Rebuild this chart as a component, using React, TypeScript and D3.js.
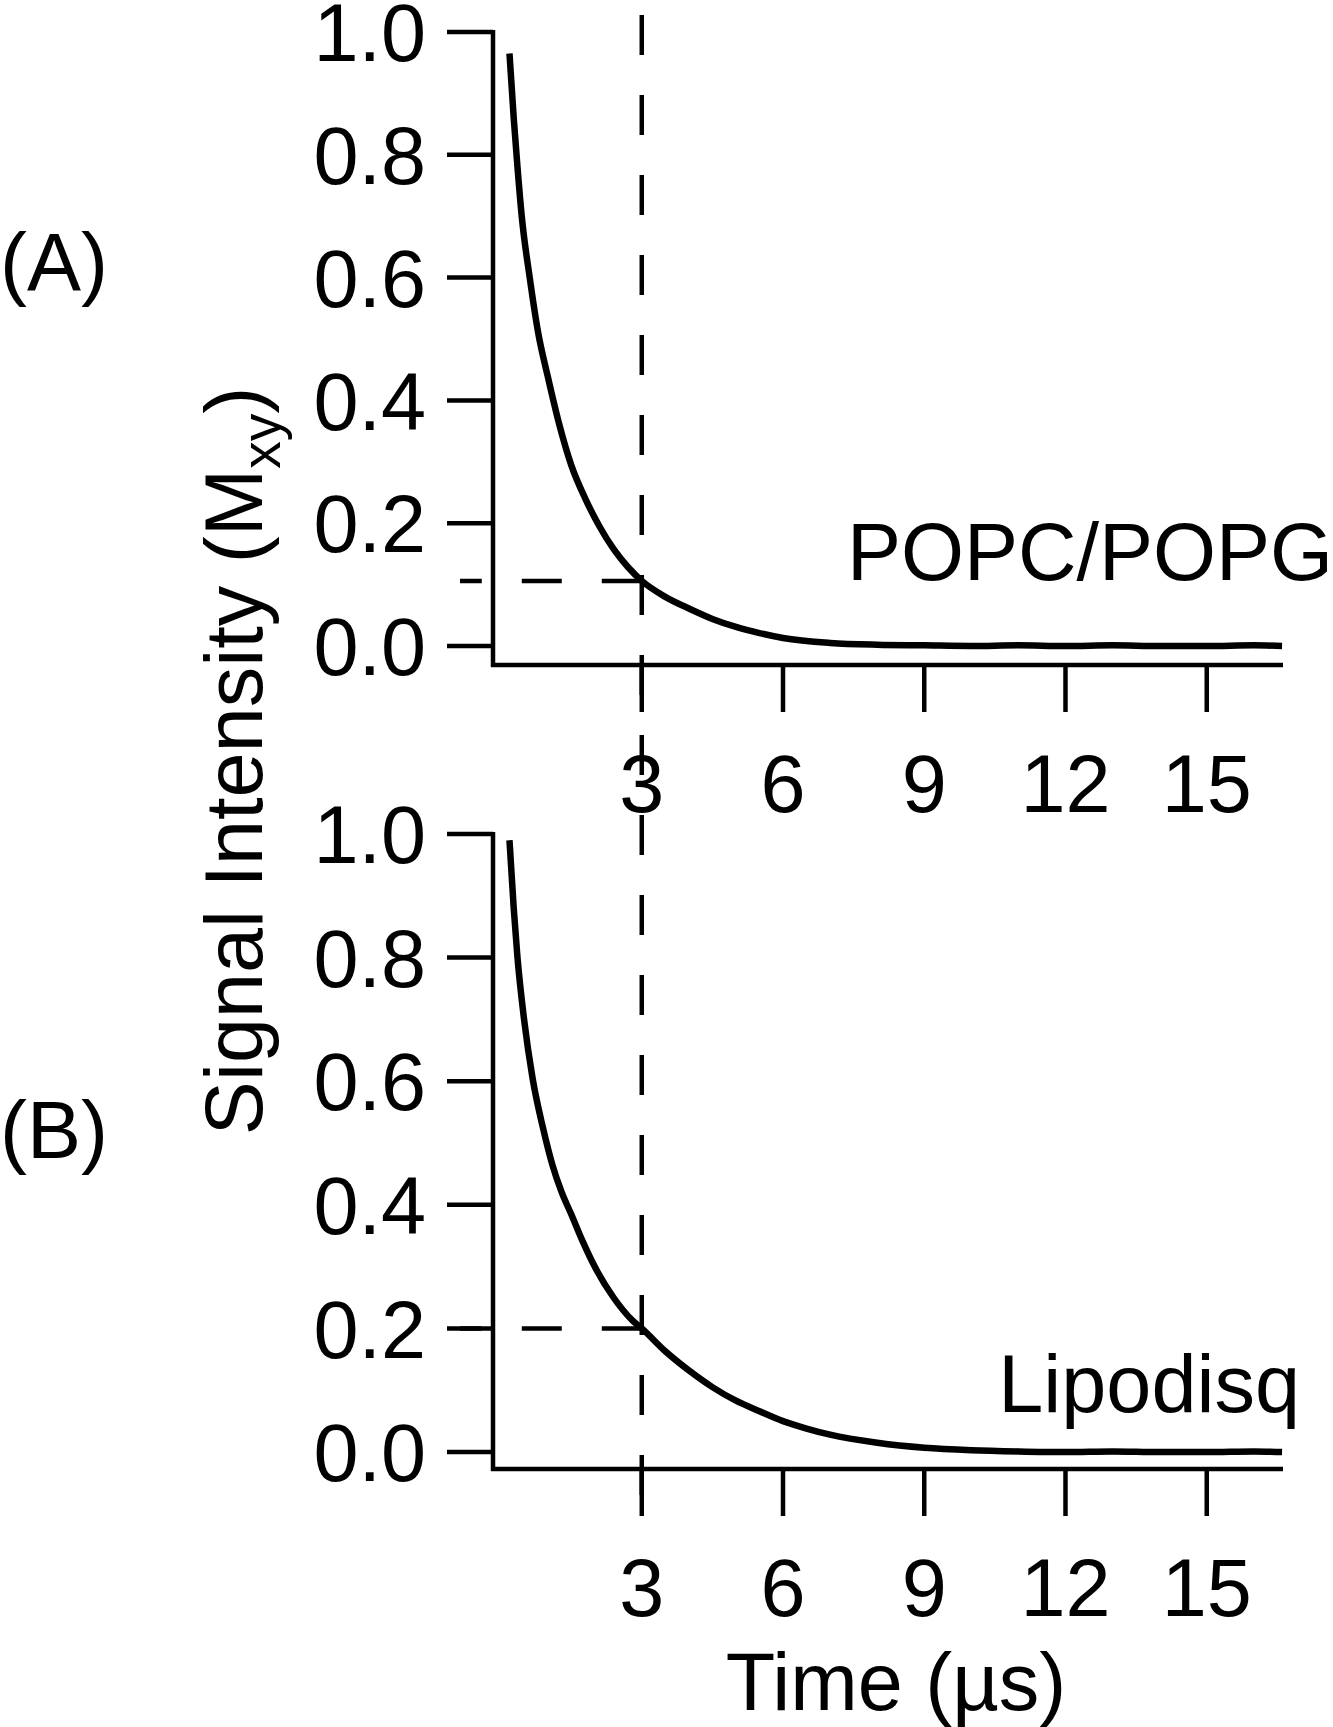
import * as d3 from "d3";
import React, { useRef, useEffect } from "react";

// values (time in µs, normalised Mxy)
const timeTicks = [3, 6, 9, 12, 15];
const signalTicks = [0, 0.2, 0.4, 0.6, 0.8, 1.0];

const popcTime = [0.19, 0.28, 0.36, 0.45, 0.62, 0.8, 1.0, 1.25, 1.5, 1.8, 2.1, 2.4, 2.7, 3.0, 3.5, 4.0, 4.5, 5.0, 5.5, 6.0, 7.0, 8.0, 9.0, 10, 11, 12, 13, 14, 15, 16, 16.6];
const popcSignal = [0.965, 0.86, 0.78, 0.7, 0.6, 0.51, 0.44, 0.36, 0.295, 0.24, 0.195, 0.158, 0.129, 0.106, 0.08, 0.061, 0.044, 0.031, 0.021, 0.013, 0.005, 0.002, 0.001, 0.0, 0.001, 0.0, 0.001, 0.0, 0.0, 0.001, 0.0];

const lipoTime = [0.19, 0.28, 0.36, 0.5, 0.68, 0.9, 1.1, 1.3, 1.5, 1.75, 2.0, 2.4, 2.8, 3.0, 3.5, 4.0, 4.5, 5.0, 5.5, 6.0, 6.5, 7.0, 8.0, 9.0, 10, 11, 12, 13, 14, 15, 16, 16.6];
const lipoSignal = [0.99, 0.88, 0.8, 0.7, 0.605, 0.525, 0.465, 0.42, 0.385, 0.34, 0.3, 0.25, 0.213, 0.2, 0.163, 0.132, 0.105, 0.083, 0.066, 0.05, 0.038, 0.028, 0.015, 0.007, 0.003, 0.001, 0.0, 0.001, 0.0, 0.0, 0.001, 0.0];

const panelLabels = ["(A)", "(B)"];
const sampleNames = ["POPC/POPG", "Lipodisq"];
const markerTime = 3;
const markerSignal = [0.106, 0.2];

const width = 1333;
const height = 1727;
const font = "'Liberation Sans', Arial, sans-serif";
const fs = 81;
const axisWidth = 4.5;

function App() {
  const ref = useRef(null);

  useEffect(() => {
    draw();
  }, []);

  const draw = () => {
    const svg = d3.select(ref.current);
    svg.selectAll("*").remove();

    const xScale = d3.scaleLinear().domain([-0.16, 16.62]).range([493, 1283]);

    const panels = [
      {
        time: popcTime,
        signal: popcSignal,
        y: d3.scaleLinear().domain([-0.031, 1]).range([665, 32]),
        label: panelLabels[0],
        labelY: 290,
        name: sampleNames[0],
        nameX: 1333,
        nameY: 580,
        marker: markerSignal[0],
      },
      {
        time: lipoTime,
        signal: lipoSignal,
        y: d3.scaleLinear().domain([-0.0275, 1]).range([1469, 834]),
        label: panelLabels[1],
        labelY: 1158,
        name: sampleNames[1],
        nameX: 1300,
        nameY: 1412,
        marker: markerSignal[1],
      },
    ];

    const g = svg.append("g").attr("font-family", font).attr("fill", "#000");

    panels.forEach((p) => {
      const yScale = p.y;
      const x0 = xScale.range()[0];
      const yBase = yScale.range()[0];

      // axes
      g.append("line")
        .attr("x1", x0).attr("x2", x0)
        .attr("y1", yScale(1) - 2).attr("y2", yBase + 2)
        .attr("stroke", "#000").attr("stroke-width", axisWidth);
      g.append("line")
        .attr("x1", x0 - 2).attr("x2", xScale.range()[1])
        .attr("y1", yBase).attr("y2", yBase)
        .attr("stroke", "#000").attr("stroke-width", axisWidth);

      // y ticks
      signalTicks.forEach((v) => {
        g.append("line")
          .attr("x1", x0 - 46).attr("x2", x0)
          .attr("y1", yScale(v)).attr("y2", yScale(v))
          .attr("stroke", "#000").attr("stroke-width", axisWidth);
        g.append("text")
          .attr("x", x0 - 67)
          .attr("y", yScale(v))
          .attr("dy", "0.36em")
          .attr("text-anchor", "end")
          .style("font-size", fs + "px")
          .text(d3.format(".1f")(v));
      });

      // x ticks
      timeTicks.forEach((t) => {
        g.append("line")
          .attr("x1", xScale(t)).attr("x2", xScale(t))
          .attr("y1", yBase).attr("y2", yBase + 47)
          .attr("stroke", "#000").attr("stroke-width", axisWidth);
        g.append("text")
          .attr("x", xScale(t))
          .attr("y", yBase + 147)
          .attr("text-anchor", "middle")
          .style("font-size", fs + "px")
          .text(t);
      });

      // horizontal marker at t = 3
      g.append("line")
        .attr("x1", xScale(markerTime)).attr("x2", x0 - 33)
        .attr("y1", yScale(p.marker)).attr("y2", yScale(p.marker))
        .attr("stroke", "#000").attr("stroke-width", axisWidth)
        .attr("stroke-dasharray", "40 40");

      // decay curve
      const pts = p.time.map((t, i) => [t, p.signal[i]]);
      const line = d3.line()
        .x((d) => xScale(d[0]))
        .y((d) => yScale(d[1]))
        .curve(d3.curveMonotoneX);
      g.append("path")
        .attr("d", line(pts))
        .attr("fill", "none")
        .attr("stroke", "#000")
        .attr("stroke-width", 6.5)
        .attr("stroke-linejoin", "round");

      g.append("text")
        .attr("x", 0).attr("y", p.labelY)
        .style("font-size", fs + "px")
        .text(p.label);

      g.append("text")
        .attr("x", p.nameX).attr("y", p.nameY)
        .attr("text-anchor", "end")
        .style("font-size", fs + "px")
        .text(p.name);
    });

    // vertical marker through both panels
    g.append("line")
      .attr("x1", xScale(markerTime)).attr("x2", xScale(markerTime))
      .attr("y1", 15).attr("y2", 1495)
      .attr("stroke", "#000").attr("stroke-width", axisWidth)
      .attr("stroke-dasharray", "40 40");

    g.append("text")
      .attr("x", 896).attr("y", 1710)
      .attr("text-anchor", "middle")
      .style("font-size", fs + "px")
      .text("Time (µs)");

    const yTitle = g.append("text")
      .attr("transform", "translate(262, 761) rotate(-90)")
      .attr("text-anchor", "middle")
      .style("font-size", fs + "px");
    yTitle.append("tspan").text("Signal Intensity (M");
    yTitle.append("tspan").attr("dy", 18).style("font-size", "55px").text("xy");
    yTitle.append("tspan").attr("dy", -18).text(")");
  };

  return (
    <svg
      ref={ref}
      width={width}
      height={height}
      viewBox={`0 0 ${width} ${height}`}
      style={{ position: "absolute", left: 0, top: 0, background: "#fff" }}
    ></svg>
  );
}

export default App;
